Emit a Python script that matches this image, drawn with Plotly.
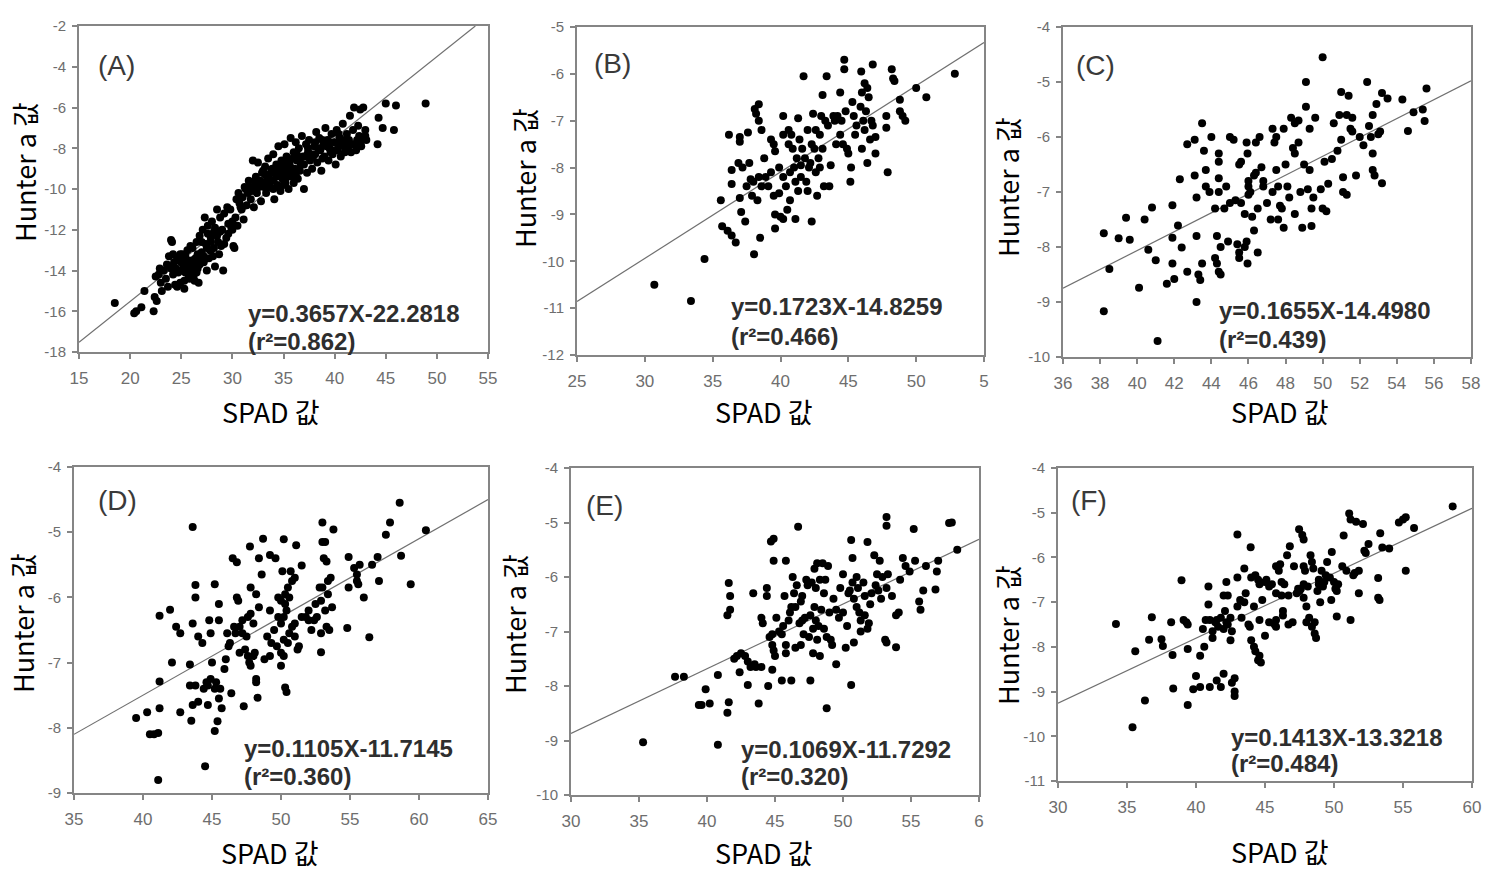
import plotly.graph_objects as go

# ---------------- DATA ----------------
A_pts = [(18.5,-15.6),(20.4,-16.1),(20.6,-16.0),(21.1,-15.8),(21.4,-15.0),(22.3,-16.0),(22.4,-15.3),(22.6,-15.5),(22.5,-14.3),(22.8,-14.2),
         (23.0,-14.6),(23.1,-15.0),(23.3,-14.0),(23.5,-14.4),(23.8,-13.3),(24.0,-12.5),(24.1,-12.6),(24.0,-13.9),(24.2,-14.2),(24.4,-14.7),
         (24.6,-14.8),(24.3,-13.6),(24.8,-13.5),(25.0,-14.0),(25.1,-13.2),(25.3,-14.5),(25.5,-13.8),(25.6,-13.0),(25.7,-14.2),(25.9,-13.6),
         (26.0,-14.0),(26.1,-12.9),(26.2,-14.3),(26.4,-13.4),(26.5,-12.6),(26.6,-13.9),(26.7,-14.6),(26.8,-12.3),(27.0,-13.1),(27.1,-12.0),
         (27.2,-13.6),(27.3,-11.4),(27.4,-12.7),(27.5,-14.0),(27.6,-11.8),(27.8,-13.0),(27.9,-12.4),(28.0,-11.6),(28.1,-13.3),(28.2,-12.1),
         (28.3,-13.8),(28.5,-11.0),(28.6,-12.6),(28.7,-13.2),(28.8,-11.4),(29.0,-12.0),(29.1,-14.0),(29.2,-11.2),(29.4,-12.4),(29.5,-10.9),
         (29.6,-11.7),(29.8,-11.0),(30.0,-12.0),(30.1,-12.8),(30.2,-12.9),(30.3,-11.4),(30.4,-10.5),(30.5,-11.8),(30.6,-10.2),(30.8,-10.9),
         (31.0,-10.4),(31.1,-11.5),(31.2,-9.9),(31.4,-10.8),(31.5,-10.2),(31.6,-9.6),(31.8,-10.5),(32.0,-9.9),(32.0,-8.6),(32.1,-10.9),
         (32.3,-9.4),(32.4,-10.2),(32.5,-8.7),(32.6,-9.9),(32.8,-10.6),(32.9,-9.2),(33.0,-9.7),(33.2,-8.9),(33.3,-10.2),(33.4,-9.5),
         (33.5,-8.5),(33.7,-9.9),(33.8,-9.1),(34.0,-8.3),(34.0,-9.6),(34.1,-10.5),(34.2,-9.0),(34.3,-8.8),(34.4,-9.8),(34.5,-7.9),
         (34.6,-9.3),(34.7,-10.1),(34.8,-8.6),(34.9,-9.5),(35.0,-9.0),(35.1,-7.8),(35.2,-9.7),(35.3,-8.4),(35.4,-9.2),(35.5,-10.0),
         (35.6,-8.8),(35.7,-7.5),(35.8,-9.4),(36.0,-8.2),(36.1,-9.0),(36.2,-7.7),(36.3,-8.6),(36.4,-9.5),(36.5,-8.0),(36.6,-9.1),
         (36.8,-7.4),(36.9,-8.4),(37.0,-10.0),(37.0,-8.8),(37.2,-7.8),(37.3,-9.2),(37.4,-8.2),(37.5,-7.6),(37.6,-8.6),(37.8,-9.0),
         (38.0,-7.9),(38.1,-8.3),(38.2,-7.2),(38.3,-8.7),(38.5,-7.5),(38.6,-8.1),(38.7,-9.1),(38.9,-7.8),(39.0,-8.4),(39.1,-7.0),
         (39.3,-7.6),(39.4,-8.6),(39.5,-8.0),(39.7,-7.3),(39.8,-8.3),(40.0,-7.7),(40.1,-8.8),(40.2,-7.1),(40.3,-8.1),(40.5,-7.5),
         (40.6,-8.4),(40.8,-6.8),(40.9,-7.9),(41.0,-8.2),(41.2,-7.3),(41.3,-8.0),(41.4,-7.6),(41.5,-6.4),(41.6,-8.2),(41.8,-7.1),
         (41.9,-6.0),(42.0,-7.8),(42.1,-8.1),(42.3,-6.9),(42.4,-7.4),(42.5,-6.1),(42.7,-7.6),(42.8,-6.0),(43.0,-7.1),(43.1,-7.6),
         (44.2,-7.8),(44.3,-6.5),(44.7,-7.0),(45.0,-5.8),(45.8,-7.1),(46.0,-5.9),(48.9,-5.8),
         (24.5,-13.9),(25.2,-13.7),(25.8,-14.4),(26.3,-13.7),(24.7,-14.1),(25.4,-14.1),(26.9,-13.5),(27.7,-13.4),(23.9,-13.8),(24.9,-14.6),
         (33.6,-9.3),(34.3,-9.4),(35.2,-9.5),(35.9,-9.0),(34.9,-8.9),(33.9,-9.0),(36.7,-8.8),(37.9,-8.4),(38.8,-8.5),(39.6,-8.2),
         (40.4,-7.9),(41.1,-7.9),(36.2,-9.3),(35.5,-8.6),(34.6,-9.9),(33.1,-9.9),(31.9,-10.1),(30.9,-11.0),(29.9,-11.9),(28.9,-12.8),
         (27.9,-13.0),(26.6,-13.2),(25.6,-13.5),
         (23.6,-13.7),(24.2,-13.2),(24.6,-13.4),(25.0,-13.6),(25.4,-13.3),(25.8,-13.9),(26.1,-13.5),(26.5,-14.1),(26.8,-13.7),(27.2,-13.3),
         (27.5,-12.9),(27.9,-12.6),(28.2,-12.9),(28.5,-12.3),(28.8,-12.1),(29.2,-12.7),(29.6,-12.2),(30.0,-11.6),(26.3,-14.5),(25.3,-14.9),
         (24.9,-13.2),(23.7,-14.8),(22.9,-13.9),(25.9,-12.8),(27.0,-12.6),(28.3,-11.9),(27.6,-12.2),
         (32.7,-9.6),(33.2,-9.3),(33.6,-9.7),(34.1,-9.2),(34.5,-8.9),(34.8,-9.2),(35.3,-8.8),(35.6,-9.1),(35.9,-8.5),(36.3,-8.3),
         (36.6,-8.6),(37.1,-8.4),(37.4,-8.0),(37.7,-8.3),(38.1,-7.7),(38.4,-8.0),(38.8,-7.6),(39.2,-7.9),(39.6,-7.7),(40.0,-8.1),
         (40.4,-7.3),(40.7,-7.7),(41.0,-7.6),(41.7,-7.8),(42.2,-7.6),(42.6,-7.9),(43.0,-7.4),(33.0,-9.1),(34.0,-10.0),(35.0,-9.8),
         (36.0,-9.7),(31.3,-10.0),(30.7,-10.7),(32.2,-9.6),(31.7,-9.9)]

B_pts = [(30.7,-10.5),(33.4,-10.85),(34.4,-9.95),(35.6,-8.7),(36.2,-7.3),(35.7,-9.25),(36.1,-9.35),(36.4,-9.45),(36.7,-9.6),(36.4,-8.05),
         (36.4,-8.35),(37.0,-7.45),(37.0,-7.35),(36.9,-7.9),(37.0,-8.65),(37.1,-8.95),(37.4,-9.15),(37.2,-8.0),(37.6,-7.25),(37.7,-7.9),
         (37.8,-8.25),(38.0,-8.3),(37.9,-8.6),(38.05,-9.85),(38.1,-6.75),(38.4,-6.65),(38.2,-6.85),(38.4,-7.0),(38.6,-7.2),(38.4,-8.2),
         (38.6,-8.4),(38.3,-8.7),(38.5,-9.5),(38.8,-7.8),(39.3,-8.1),(39.3,-7.4),(39.5,-7.5),(39.6,-7.65),(39.9,-8.0),(39.5,-8.6),
         (39.9,-8.55),(39.6,-9.0),(40.0,-9.05),(39.6,-9.3),(40.2,-9.1),(40.5,-8.9),(40.7,-8.7),(40.4,-8.4),(40.2,-8.2),(40.2,-6.9),
         (40.2,-7.3),(40.6,-7.2),(40.8,-7.3),(40.6,-7.5),(40.9,-7.6),(41.3,-6.95),(41.2,-7.8),(41.0,-8.0),(41.1,-8.3),(41.3,-8.5),
         (41.1,-9.1),(41.5,-8.2),(41.7,-6.05),(41.8,-7.8),(41.5,-7.95),(42.0,-7.2),(42.1,-8.0),(42.0,-8.5),(42.3,-7.5),(42.4,-6.85),
         (42.3,-9.15),(42.5,-7.6),(42.6,-8.1),(42.7,-8.6),(42.8,-7.8),(42.9,-7.3),(43.0,-6.9),(43.2,-8.4),(43.4,-6.05),(43.5,-7.1),
         (43.1,-6.45),(43.6,-8.4),(43.7,-7.95),(44.0,-7.0),(44.4,-6.4),(44.4,-7.3),(44.6,-7.5),(44.7,-5.7),(44.7,-5.9),(44.8,-6.8),
         (44.9,-7.6),(45.0,-7.7),(45.15,-8.3),(45.2,-8.0),(45.3,-6.6),(45.4,-6.9),(45.6,-7.1),(45.95,-5.95),(46.0,-6.4),(46.0,-7.6),
         (46.2,-6.2),(46.3,-6.8),(46.2,-7.2),(46.4,-7.9),(46.5,-6.5),(46.6,-7.4),(46.7,-7.0),(46.8,-5.8),(46.8,-7.1),(47.0,-7.7),
         (47.0,-7.35),(47.8,-7.15),(47.8,-6.9),(47.9,-8.1),(48.2,-5.9),(48.3,-6.1),(48.4,-6.15),(48.8,-6.55),(48.8,-6.8),(49.0,-6.9),
         (49.2,-7.0),(50.0,-6.3),(50.75,-6.5),(52.85,-6.0),
         (41.6,-7.6),(42.2,-7.9),(42.9,-8.0),(43.1,-7.6),(41.9,-8.3),(40.7,-8.1),(41.4,-7.4),(42.6,-7.2),(43.3,-7.0),(44.1,-7.5),
         (44.5,-7.0),(45.5,-7.3),(45.9,-6.7),(46.4,-6.3),(46.1,-7.0),(44.2,-6.9),(43.9,-6.9),(39.1,-8.4),(38.9,-8.2),(37.5,-8.4)]

C_pts = [(38.2,-7.75),(38.2,-9.17),(38.5,-8.4),(39.0,-7.84),(39.4,-7.47),(39.6,-7.87),(40.1,-8.74),(40.4,-7.5),(40.6,-8.05),(40.8,-7.28),
         (41.1,-9.71),(41.0,-8.24),(41.6,-8.67),(41.9,-7.24),(41.9,-7.83),(41.9,-8.3),(42.0,-8.58),(42.2,-7.61),(42.4,-8.01),(42.3,-6.77),
         (42.7,-6.13),(42.7,-8.45),(43.1,-6.05),(43.1,-6.7),(43.2,-7.1),(43.2,-7.8),(43.3,-8.5),(43.4,-8.6),(43.2,-9.0),(43.5,-8.3),
         (43.5,-5.75),(43.6,-6.25),(43.7,-6.6),(43.7,-6.9),(43.9,-7.0),(44.0,-6.0),(44.2,-7.3),(44.2,-8.2),(44.3,-8.3),(44.4,-6.3),
         (44.4,-6.45),(44.4,-6.75),(44.4,-7.0),(44.3,-7.8),(44.4,-8.45),(44.5,-8.5),(44.5,-8.0),(44.7,-7.3),(44.8,-6.9),(45.0,-7.2),
         (44.9,-7.9),(45.0,-6.0),(45.2,-6.05),(45.3,-7.15),(45.4,-7.95),(45.5,-8.1),(45.5,-8.2),(45.5,-6.5),(45.6,-6.45),(45.6,-7.2),
         (45.8,-7.4),(45.8,-8.0),(45.9,-7.9),(45.95,-6.3),(45.9,-6.1),(46.0,-6.8),(46.0,-6.9),(46.0,-7.05),(45.95,-8.3),(46.1,-7.0),
         (46.3,-6.7),(46.4,-6.65),(46.5,-7.3),(46.2,-7.45),(46.3,-7.7),(46.5,-8.1),(46.4,-6.1),(46.7,-6.55),(46.6,-6.0),(46.8,-6.9),
         (47.0,-7.2),(46.8,-6.8),(47.3,-7.0),(47.2,-7.5),(47.3,-5.85),(47.5,-6.0),(47.4,-6.1),(47.5,-6.6),(47.6,-6.9),(47.6,-7.5),
         (47.7,-7.25),(47.8,-7.3),(47.9,-7.65),(47.9,-5.85),(48.0,-6.5),(48.1,-6.9),(48.2,-7.1),(48.3,-5.65),(48.4,-6.2),(48.5,-5.75),
         (48.5,-6.3),(48.5,-7.4),(48.7,-5.7),(48.7,-6.1),(48.8,-7.0),(49.0,-6.5),(48.9,-7.65),(49.1,-5.0),(49.1,-5.45),(49.2,-6.95),
         (49.3,-6.6),(49.3,-5.85),(49.4,-7.3),(49.4,-7.62),(49.5,-7.1),(49.6,-5.65),(49.9,-6.95),(50.0,-7.3),(50.0,-4.55),(50.1,-6.45),
         (50.2,-7.35),(50.3,-6.85),(50.5,-6.4),(50.6,-5.75),(50.8,-6.25),(50.9,-5.6),(51.0,-6.05),(51.0,-5.18),(51.1,-6.73),(51.1,-7.0),
         (51.3,-7.05),(51.3,-5.6),(51.4,-5.25),(51.5,-5.85),(51.6,-5.65),(51.6,-5.9),(51.8,-6.7),(52.0,-6.0),(52.2,-6.15),(52.4,-5.0),
         (52.5,-5.8),(52.6,-6.0),(52.7,-5.6),(52.7,-6.6),(52.8,-6.7),(52.7,-6.3),(52.9,-5.4),(53.0,-5.95),(53.1,-5.9),(53.2,-6.84),
         (53.2,-5.2),(53.5,-5.3),(54.3,-5.32),(54.6,-5.89),(54.9,-5.55),(55.4,-5.5),(55.6,-5.12),(55.5,-5.71)]

D_pts = [(39.5,-7.85),(40.3,-7.76),(40.5,-8.1),(40.8,-8.1),(41.1,-8.08),(41.2,-7.7),(41.1,-8.8),(41.2,-7.29),(41.2,-6.28),(41.96,-6.19),
         (42.1,-7.0),(42.4,-6.45),(42.7,-6.55),(42.7,-7.76),(43.4,-7.35),(43.4,-7.03),(43.6,-7.65),(43.5,-7.89),(43.6,-4.92),(43.6,-6.4),
         (43.8,-5.81),(43.8,-6.0),(43.8,-7.35),(44.0,-7.6),(44.0,-6.6),(44.3,-6.7),(44.4,-7.4),(44.6,-7.3),(44.7,-7.65),(44.5,-8.59),
         (44.7,-7.35),(44.8,-6.35),(44.9,-7.25),(44.9,-6.55),(45.0,-7.0),(45.2,-5.8),(45.2,-7.4),(45.3,-7.3),(45.2,-8.05),(45.4,-7.9),
         (45.5,-6.35),(45.5,-6.1),(45.5,-7.55),(45.6,-7.4),(45.7,-7.7),(45.9,-7.1),(46.0,-6.95),(46.1,-6.55),(46.2,-6.75),(46.3,-6.7),
         (46.5,-5.4),(46.4,-7.47),(46.7,-6.55),(46.8,-6.0),(46.9,-6.05),(46.8,-5.46),(47.0,-6.45),(47.0,-6.85),(47.2,-6.35),(47.3,-7.67),
         (47.4,-6.8),(47.5,-6.6),(47.6,-6.3),(47.6,-6.9),(47.7,-7.0),(47.75,-5.22),(47.8,-5.85),(47.8,-7.05),(47.8,-6.25),(48.0,-6.4),
         (48.1,-6.85),(48.2,-7.3),(48.2,-5.95),(48.2,-7.25),(48.3,-7.54),(48.4,-6.15),(48.4,-5.4),(48.6,-5.65),(48.7,-5.1),(48.8,-6.95),
         (49.0,-6.6),(49.2,-6.9),(49.2,-5.35),(49.2,-6.2),(49.3,-6.7),(49.5,-6.5),(49.6,-5.4),(49.8,-6.0),(49.8,-6.3),(50.0,-6.05),
         (50.0,-6.85),(50.0,-7.05),(50.0,-6.4),(50.2,-5.11),(50.1,-5.6),(50.2,-6.3),(50.2,-6.65),(50.2,-6.9),(50.3,-6.1),(50.3,-5.95),
         (50.3,-7.38),(50.4,-7.45),(50.5,-5.85),(50.6,-6.55),(50.6,-6.0),(50.7,-5.6),(50.8,-5.75),(51.0,-5.7),(51.0,-6.4),(51.1,-5.2),
         (51.2,-6.8),(51.3,-6.75),(51.5,-5.51),(51.5,-6.3),(51.8,-6.3),(52.0,-6.2),(52.2,-6.5),(52.4,-6.35),(52.5,-6.1),(52.8,-5.85),
         (52.9,-6.84),(52.9,-6.55),(52.9,-6.05),(53.0,-4.85),(53.0,-5.15),(53.2,-5.15),(53.0,-5.85),(53.1,-5.4),(53.2,-6.2),(53.3,-6.45),
         (53.3,-5.45),(53.4,-5.75),(53.4,-5.95),(53.5,-6.5),(53.6,-5.7),(53.7,-6.15),(53.8,-4.96),(54.9,-5.38),(54.9,-5.85),(54.8,-6.47),
         (55.3,-5.55),(55.5,-5.65),(55.7,-5.5),(55.5,-5.75),(55.6,-5.8),(56.0,-6.0),(56.4,-6.61),(56.6,-5.5),(57.0,-5.38),(57.1,-5.75),
         (57.6,-5.04),(57.9,-4.85),(58.6,-4.55),(58.7,-5.36),(59.4,-5.8),(60.5,-4.97),
         (47.2,-6.55),(48.0,-6.9),(50.4,-6.2),(50.8,-6.45),(52.0,-6.35),(52.6,-6.3),(46.6,-6.45),(49.7,-6.75),(50.5,-6.7),(51.0,-6.6)]

E_pts = [(35.3,-9.03),(37.65,-7.83),(38.3,-7.83),(39.4,-8.35),(39.6,-8.35),(39.9,-8.06),(40.2,-8.32),(40.8,-7.8),(40.8,-9.08),(41.5,-8.49),
         (41.6,-8.3),(41.5,-6.7),(41.6,-6.11),(41.7,-6.35),(41.7,-6.6),(42.0,-7.5),(42.2,-7.45),(42.4,-7.75),(42.5,-7.4),(42.8,-7.45),
         (43.0,-7.98),(43.0,-7.55),(43.2,-7.65),(43.4,-6.3),(43.5,-7.6),(43.6,-7.65),(44.0,-7.65),(43.8,-8.32),(44.4,-6.2),(44.4,-6.35),
         (44.5,-8.0),(44.0,-6.75),(44.1,-6.85),(44.6,-7.1),(44.8,-7.05),(44.7,-5.35),(44.9,-5.3),(44.9,-5.7),(44.8,-7.25),(44.8,-7.7),
         (44.9,-7.35),(45.0,-7.45),(45.1,-6.75),(45.3,-7.0),(45.5,-7.9),(45.5,-7.05),(45.7,-6.35),(45.8,-5.7),(45.8,-7.25),(45.8,-7.4),
         (46.0,-6.8),(46.2,-6.55),(46.2,-7.9),(46.3,-6.0),(46.4,-6.3),(46.5,-6.55),(46.5,-7.3),(46.6,-6.15),(46.7,-5.08),(46.8,-6.85),
         (46.9,-7.25),(46.9,-6.45),(47.0,-6.8),(47.1,-7.05),(47.2,-6.75),(47.3,-6.05),(47.4,-6.15),(47.5,-7.1),(47.6,-7.9),(47.6,-6.7),
         (47.7,-6.1),(47.8,-7.4),(47.8,-6.95),(47.9,-5.85),(48.0,-6.2),(48.0,-6.8),(48.1,-5.75),(48.1,-7.15),(48.2,-6.9),(48.3,-6.05),
         (48.3,-7.45),(48.4,-6.6),(48.5,-5.75),(48.6,-6.95),(48.7,-6.05),(48.8,-8.41),(48.8,-7.1),(48.9,-5.8),(49.0,-6.65),(49.1,-7.15),
         (49.2,-7.25),(49.5,-7.6),(49.5,-6.6),(49.7,-6.75),(50.0,-6.65),(50.0,-5.95),(50.2,-7.3),(50.4,-6.3),(50.5,-6.25),(50.6,-5.32),
         (50.6,-7.98),(50.7,-5.65),(50.7,-6.1),(50.8,-7.2),(50.8,-6.4),(51.0,-6.0),(51.0,-6.55),(51.1,-6.2),(51.2,-6.65),(51.3,-6.8),
         (51.3,-7.0),(51.5,-6.1),(51.6,-6.35),(51.8,-6.95),(51.8,-5.36),(51.9,-6.85),(52.0,-6.5),(52.1,-6.3),(52.3,-5.6),(52.5,-5.95),
         (52.6,-6.25),(52.7,-5.7),(52.8,-6.4),(52.9,-6.0),(53.2,-5.06),(53.2,-4.9),(53.1,-7.15),(53.2,-7.2),(53.2,-6.2),(53.3,-5.95),
         (53.6,-6.35),(53.9,-7.29),(53.9,-6.7),(54.1,-6.65),(54.2,-6.05),(54.4,-5.65),(54.6,-5.8),(54.9,-5.9),(55.2,-5.12),(55.3,-5.7),
         (55.6,-6.45),(55.7,-6.6),(55.9,-6.25),(56.1,-5.8),(56.8,-6.23),(56.9,-5.9),(57.0,-5.7),(57.8,-5.01),(58.0,-5.0),(58.4,-5.5),
         (46.1,-6.65),(47.0,-6.35),(48.6,-6.3),(49.3,-6.4),(50.3,-6.9),(51.6,-6.7),(45.6,-6.9),(47.9,-6.55),(49.8,-6.2),(52.4,-6.15)]

F_pts = [(34.2,-7.49),(35.6,-8.1),(35.4,-9.8),(36.3,-9.2),(36.8,-7.34),(36.6,-7.84),(37.5,-7.83),(37.6,-7.98),(38.3,-8.18),(38.2,-7.45),
         (38.35,-8.93),(38.95,-6.51),(39.1,-7.4),(39.3,-7.45),(39.4,-7.5),(39.4,-8.05),(39.4,-9.3),(39.8,-8.95),(40.0,-8.65),(40.3,-8.9),
         (40.3,-8.2),(40.5,-7.6),(40.6,-8.0),(40.9,-6.65),(40.9,-7.05),(41.0,-7.4),(41.0,-8.9),(41.2,-7.65),(41.2,-7.8),(41.4,-7.45),
         (41.5,-8.75),(41.6,-7.55),(41.8,-8.9),(41.8,-7.35),(42.0,-7.6),(42.0,-6.85),(42.0,-8.6),(42.1,-7.2),(42.2,-7.45),(42.2,-6.55),
         (42.3,-6.85),(42.5,-7.35),(42.5,-7.85),(42.6,-7.65),(42.6,-8.8),(42.8,-8.7),(42.8,-9.0),(42.8,-9.1),(43.0,-5.49),(43.0,-6.45),
         (43.0,-7.1),(43.2,-6.95),(43.3,-7.35),(43.5,-6.25),(43.6,-6.8),(43.8,-7.5),(43.9,-7.55),(44.0,-6.45),(43.96,-5.77),(44.0,-7.85),
         (44.2,-7.1),(44.2,-8.0),(44.3,-8.1),(44.5,-8.3),(44.6,-8.2),(44.7,-8.35),(44.5,-6.5),(44.6,-6.6),(44.6,-7.4),(44.8,-6.95),
         (45.0,-7.75),(45.0,-6.55),(45.3,-6.65),(45.3,-7.45),(45.5,-6.6),(45.7,-7.5),(45.8,-7.55),(45.8,-6.2),(45.8,-6.8),(45.8,-7.4),
         (46.0,-6.3),(46.1,-6.15),(46.2,-6.55),(46.2,-6.85),(46.3,-7.2),(46.3,-7.3),(46.7,-7.5),(46.6,-5.95),(46.7,-6.85),(46.8,-5.75),
         (47.0,-7.45),(47.1,-6.2),(47.3,-6.8),(47.47,-5.37),(47.5,-6.75),(47.6,-6.7),(47.7,-5.5),(47.8,-6.6),(47.8,-6.9),(47.8,-5.6),
         (47.8,-6.2),(47.9,-6.3),(48.0,-7.45),(48.0,-7.1),(48.1,-6.65),(48.2,-7.35),(48.3,-5.95),(48.4,-7.55),(48.4,-6.1),(48.5,-6.25),
         (48.6,-7.45),(48.6,-7.7),(48.7,-7.8),(48.8,-6.75),(48.9,-6.5),(49.0,-7.0),(49.1,-6.3),(49.2,-6.65),(49.3,-6.55),(49.5,-6.1),
         (49.7,-6.45),(49.84,-5.88),(49.8,-6.95),(50.0,-6.55),(50.1,-6.7),(50.2,-6.75),(50.3,-6.6),(50.2,-7.32),(50.6,-6.2),(50.7,-5.51),
         (50.9,-6.3),(51.1,-5.02),(51.2,-5.15),(51.2,-7.4),(51.4,-6.4),(51.5,-6.35),(51.6,-5.2),(51.8,-6.8),(51.8,-6.3),(52.1,-5.25),
         (52.2,-5.85),(52.3,-5.9),(52.5,-5.7),(53.35,-5.46),(53.2,-6.46),(53.2,-6.9),(53.3,-6.95),(53.5,-5.78),(54.0,-5.8),(54.7,-5.22),
         (55.0,-5.15),(55.2,-5.1),(55.2,-6.3),(55.8,-5.34),(58.6,-4.86),
         (41.5,-7.4),(42.3,-7.5),(43.5,-7.0),(44.3,-6.4),(45.1,-6.5),(46.4,-6.6),(47.4,-6.7),(48.9,-6.6),(49.4,-6.4),(40.7,-7.4)]

# fitted lines as drawn (end points)
A_fit_x, A_fit_y = [15, 53.76], [-17.52, -2.0]
B_fit_x, B_fit_y = [25, 55], [-10.86, -5.33]
C_fit_x, C_fit_y = [36, 58], [-8.75, -4.98]
D_fit_x, D_fit_y = [35, 65], [-8.1, -4.5]
E_fit_x, E_fit_y = [30, 60], [-8.87, -5.31]
F_fit_x, F_fit_y = [30, 60], [-9.26, -4.9]

labels = ["(A)", "(B)", "(C)", "(D)", "(E)", "(F)"]
equations = ["y=0.3657X-22.2818", "y=0.1723X-14.8259", "y=0.1655X-14.4980",
             "y=0.1105X-11.7145", "y=0.1069X-11.7292", "y=0.1413X-13.3218"]
r2_values = ["0.862", "0.466", "0.439", "0.360", "0.320", "0.484"]

A_xticks = [15, 20, 25, 30, 35, 40, 45, 50, 55]
B_xticks = [25, 30, 35, 40, 45, 50, 55]
C_xticks = [36, 38, 40, 42, 44, 46, 48, 50, 52, 54, 56, 58]
D_xticks = [35, 40, 45, 50, 55, 60, 65]
E_xticks = [30, 35, 40, 45, 50, 55, 60]
F_xticks = [30, 35, 40, 45, 50, 55, 60]
A_xtext = ["15", "20", "25", "30", "35", "40", "45", "50", "55"]
B_xtext = ["25", "30", "35", "40", "45", "50", "5"]
C_xtext = [str(v) for v in C_xticks]
D_xtext = [str(v) for v in D_xticks]
E_xtext = ["30", "35", "40", "45", "50", "55", "6"]
F_xtext = [str(v) for v in F_xticks]
A_yticks = [-18, -16, -14, -12, -10, -8, -6, -4, -2]
B_yticks = [-12, -11, -10, -9, -8, -7, -6, -5]
C_yticks = [-10, -9, -8, -7, -6, -5, -4]
D_yticks = [-9, -8, -7, -6, -5, -4]
E_yticks = [-10, -9, -8, -7, -6, -5, -4]
F_yticks = [-11, -10, -9, -8, -7, -6, -5, -4]

x_title = "SPAD 값"
y_title = "Hunter a 값"

# ---------------- LAYOUT ----------------
W, H = 1509, 874
panels = [
    dict(pts=A_pts, fx=A_fit_x, fy=A_fit_y, xt=A_xticks, xtt=A_xtext, yt=A_yticks, xr=[15, 55], yr=[-18, -2],
         box=(79, 488, 26, 352), lab=(96, 65), eq=(246, 313, 341), ytp=(24, 172), xtp=(271, 411)),
    dict(pts=B_pts, fx=B_fit_x, fy=B_fit_y, xt=B_xticks, xtt=B_xtext, yt=B_yticks, xr=[25, 55], yr=[-12, -5],
         box=(577, 984, 27, 355), lab=(592, 63), eq=(729, 307, 336), ytp=(524, 178), xtp=(764, 411)),
    dict(pts=C_pts, fx=C_fit_x, fy=C_fit_y, xt=C_xticks, xtt=C_xtext, yt=C_yticks, xr=[36, 58], yr=[-10, -4],
         box=(1063, 1471, 27, 357), lab=(1074, 65), eq=(1217, 310, 339), ytp=(1007, 187), xtp=(1280, 411)),
    dict(pts=D_pts, fx=D_fit_x, fy=D_fit_y, xt=D_xticks, xtt=D_xtext, yt=D_yticks, xr=[35, 65], yr=[-9, -4],
         box=(74, 488, 467, 793), lab=(96, 500), eq=(242, 748, 776), ytp=(22, 623), xtp=(270, 852)),
    dict(pts=E_pts, fx=E_fit_x, fy=E_fit_y, xt=E_xticks, xtt=E_xtext, yt=E_yticks, xr=[30, 60], yr=[-10, -4],
         box=(571, 979, 468, 795), lab=(584, 505), eq=(739, 749, 776), ytp=(514, 624), xtp=(764, 852)),
    dict(pts=F_pts, fx=F_fit_x, fy=F_fit_y, xt=F_xticks, xtt=F_xtext, yt=F_yticks, xr=[30, 60], yr=[-11, -4],
         box=(1058, 1472, 468, 781), lab=(1069, 500), eq=(1229, 737, 763), ytp=(1007, 635), xtp=(1280, 851)),
]

FRAME = "#858585"
TICKC = "#6e6e6e"
TITLE_FONT = dict(family="Noto Sans CJK KR", size=27, color="black")
EQ_FONT = dict(family="Liberation Sans", size=24, color="#2e2e2e", weight="bold")
fig = go.Figure()
annotations = []
layout_axes = {}
for i, p in enumerate(panels):
    n = "" if i == 0 else str(i + 1)
    xs = [a for a, b in p["pts"]]
    ys = [b for a, b in p["pts"]]
    fig.add_trace(go.Scatter(x=p["fx"], y=p["fy"], mode="lines", line=dict(color="#707070", width=1.2),
                             xaxis="x" + n, yaxis="y" + n, showlegend=False, hoverinfo="skip"))
    fig.add_trace(go.Scatter(x=xs, y=ys, mode="markers", marker=dict(color="black", size=8, line=dict(width=0)),
                             xaxis="x" + n, yaxis="y" + n, showlegend=False))
    l, r, t, b = p["box"]
    layout_axes["xaxis" + n] = dict(domain=[l / W, r / W], range=p["xr"], anchor="y" + n, automargin=False,
                                    tickvals=p["xt"], ticktext=p["xtt"], showgrid=False, zeroline=False,
                                    showline=True, mirror=True, linecolor=FRAME, linewidth=2,
                                    ticks="outside", ticklen=5, tickwidth=1.5, tickcolor=FRAME,
                                    tickfont=dict(family="Liberation Sans", size=17, color=TICKC),
                                    ticklabelstandoff=5)
    layout_axes["yaxis" + n] = dict(domain=[1 - b / H, 1 - t / H], range=p["yr"], anchor="x" + n, automargin=False,
                                    tickvals=p["yt"], ticktext=[str(v) for v in p["yt"]], showgrid=False, zeroline=False,
                                    showline=True, mirror=True, linecolor=FRAME, linewidth=2,
                                    ticks="outside", ticklen=5, tickwidth=1.5, tickcolor=FRAME,
                                    tickfont=dict(family="Liberation Sans", size=15, color=TICKC),
                                    ticklabelstandoff=3)
    lx, ly = p["lab"]
    annotations.append(dict(text=labels[i], x=lx / W, y=1 - ly / H, xref="paper", yref="paper",
                            xanchor="left", yanchor="middle", showarrow=False,
                            font=dict(family="Liberation Sans", size=28, color="#3a3a3a")))
    ex, ey1, ey2 = p["eq"]
    annotations.append(dict(text=equations[i], x=ex / W, y=1 - ey1 / H, xref="paper", yref="paper",
                            xanchor="left", yanchor="middle", showarrow=False, font=EQ_FONT))
    annotations.append(dict(text="(r²=" + r2_values[i] + ")", x=ex / W, y=1 - ey2 / H,
                            xref="paper", yref="paper", xanchor="left", yanchor="middle", showarrow=False,
                            font=EQ_FONT))
    yx, yy = p["ytp"]
    annotations.append(dict(text=y_title, x=yx / W, y=1 - yy / H, xref="paper", yref="paper",
                            xanchor="center", yanchor="middle", textangle=-90, showarrow=False, font=TITLE_FONT))
    tx, ty = p["xtp"]
    annotations.append(dict(text=x_title, x=tx / W, y=1 - ty / H, xref="paper", yref="paper",
                            xanchor="center", yanchor="middle", showarrow=False, font=TITLE_FONT))

fig.update_layout(width=W, height=H, margin=dict(l=0, r=0, t=0, b=0),
                  paper_bgcolor="white", plot_bgcolor="white",
                  annotations=annotations, **layout_axes)
fig.write_html("out.html", config={"displayModeBar": False},
               post_script="document.body.style.margin='0px';document.body.style.overflow='hidden';")
